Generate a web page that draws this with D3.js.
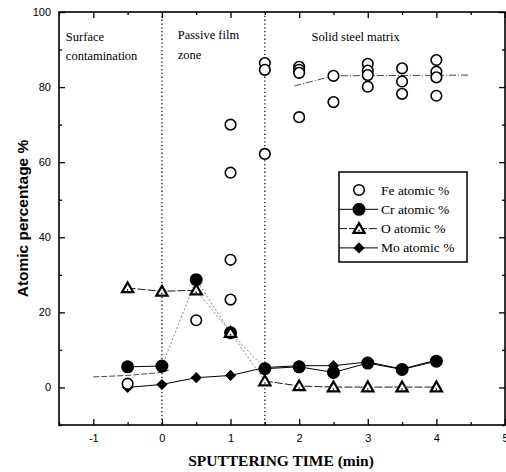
<!DOCTYPE html>
<meta charset="utf-8">
<style>
  body { margin: 0; background: #fff; }
  .tick text { font-family: "Liberation Sans", Arial, sans-serif; font-size: 11px; }
  .lbl { font-family: "Liberation Serif", "Times New Roman", serif; font-size: 12.5px; }
  .leg { font-family: "Liberation Serif", "Times New Roman", serif; font-size: 13.5px; }
</style>
<body>
<div class="chart"></div>

<script src="https://d3js.org/d3.v7.min.js"></script>
<script>

// data
var feX = [-0.5, 0.5, 1, 1, 1, 1, 1.5, 1.5, 1.5, 2, 2, 2, 2, 2.5, 2.5, 3, 3, 3, 3, 3.5, 3.5, 3.5, 4, 4, 4, 4];
var feY = [1, 17.9, 70, 57.2, 34, 23.4, 86.4, 84.6, 62.2, 85.4, 84.6, 83.8, 72, 83, 76, 86.2, 84.4, 83.2, 80.1, 85, 81.5, 78.2, 87.2, 84.1, 82.6, 77.7];

var times = [-0.5, 0, 0.5, 1, 1.5, 2, 2.5, 3, 3.5, 4];
var crY = [5.5, 5.7, 28.7, 14.6, 5, 5.5, 4, 6.5, 4.8, 7];
var oY  = [26.5, 25.6, 25.9, 14.6, 1.7, 0.4, 0.1, 0.1, 0.1, 0.1];
var moY = [0, 0.8, 2.6, 3.2, 5.3, 5.8, 5.8, 6.8, 4.9, 7.3];

// fitted Fe trend (visible parts only)
var fitLowX = [-1, -0.5, 0, 0.1];
var fitLowY = [2.8, 3.2, 4, 4.6];
var fitHighX = [1.93, 2.5, 4.47];
var fitHighY = [80.3, 83, 83.2];

var zoneX = [0, 1.5];
var xTicks = [-1, 0, 1, 2, 3, 4, 5];
var yTicks = [0, 20, 40, 60, 80, 100];

var width = 506, height = 472;
var margin = {left: 59, right: 505, top: 12, bottom: 425};

var svg = d3.select(".chart").append("svg")
    .attr("width", width)
    .attr("height", height);

var x = d3.scaleLinear().domain([-1.5, 5]).range([margin.left, margin.right]);
var y = d3.scaleLinear().domain([-10, 100]).range([margin.bottom, margin.top]);

var fmt = function(d) { return String(d); };

// axes, ticks inward on all four sides
var minorX = d3.range(-1.5, 5.01, 0.5).filter(function(d) { return d % 1 !== 0; });
var minorY = d3.range(-10, 101, 10).filter(function(d) { return d % 20 !== 0; });

svg.append("g").attr("transform", "translate(0," + margin.bottom + ")")
    .call(d3.axisBottom(x).tickValues(xTicks).tickSize(-6).tickPadding(9).tickFormat(fmt));
svg.append("g").attr("transform", "translate(0," + margin.bottom + ")")
    .call(d3.axisBottom(x).tickValues(minorX).tickSize(-3).tickFormat(""));
svg.append("g").attr("transform", "translate(0," + margin.top + ")")
    .call(d3.axisTop(x).tickValues(xTicks).tickSize(-6).tickFormat(""));
svg.append("g").attr("transform", "translate(0," + margin.top + ")")
    .call(d3.axisTop(x).tickValues(minorX).tickSize(-3).tickFormat(""));
svg.append("g").attr("transform", "translate(" + margin.left + ",0)")
    .call(d3.axisLeft(y).tickValues(yTicks).tickSize(-6).tickPadding(8).tickFormat(fmt));
svg.append("g").attr("transform", "translate(" + margin.left + ",0)")
    .call(d3.axisLeft(y).tickValues(minorY).tickSize(-3).tickFormat(""));
svg.append("g").attr("transform", "translate(" + margin.right + ",0)")
    .call(d3.axisRight(y).tickValues(yTicks).tickSize(-6).tickFormat(""));
svg.append("g").attr("transform", "translate(" + margin.right + ",0)")
    .call(d3.axisRight(y).tickValues(minorY).tickSize(-3).tickFormat(""));

svg.selectAll(".domain").remove();
svg.selectAll(".tick line").attr("stroke-width", 1.3);

svg.append("rect")
    .attr("x", margin.left).attr("y", margin.top)
    .attr("width", margin.right - margin.left).attr("height", margin.bottom - margin.top)
    .attr("fill", "none").attr("stroke", "#000").attr("stroke-width", 1.6);

// zone separators
svg.selectAll(".zone")
    .data(zoneX)
  .enter().append("line")
    .attr("x1", function(d) { return x(d); })
    .attr("x2", function(d) { return x(d); })
    .attr("y1", margin.top).attr("y2", margin.bottom)
    .attr("stroke", "#000").attr("stroke-width", 1.2)
    .attr("stroke-dasharray", "1.3,2.5");

// zone labels
var zoneLabels = [
  {t: "Surface", x: -1.4, y: 92.4},
  {t: "contamination", x: -1.4, y: 87.3},
  {t: "Passive film", x: 0.23, y: 92.9},
  {t: "zone", x: 0.23, y: 87.6},
  {t: "Solid steel matrix", x: 2.18, y: 92.2}
];
svg.selectAll(".zl")
    .data(zoneLabels)
  .enter().append("text")
    .attr("class", "lbl")
    .attr("x", function(d) { return x(d.x); })
    .attr("y", function(d) { return y(d.y); })
    .text(function(d) { return d.t; });

// lines
var line = d3.line()
    .x(function(d) { return x(d[0]); })
    .y(function(d) { return y(d[1]); });

function pairs(xs, ys) { return xs.map(function(v, i) { return [v, ys[i]]; }); }

svg.append("path").datum(pairs(fitLowX, fitLowY))
    .attr("d", line).attr("fill", "none").attr("stroke", "#333")
    .attr("stroke-width", 0.9).attr("stroke-dasharray", "6,2");
svg.append("path").datum(pairs(fitHighX, fitHighY))
    .attr("d", line).attr("fill", "none").attr("stroke", "#333")
    .attr("stroke-width", 0.9).attr("stroke-dasharray", "7,2,1,2");

var crPts = pairs(times, crY);
svg.append("path").datum(crPts.slice(0, 2))
    .attr("d", line).attr("fill", "none").attr("stroke", "#000").attr("stroke-width", 1);
svg.append("path").datum(crPts.slice(1, 5))
    .attr("d", line).attr("fill", "none").attr("stroke", "#777")
    .attr("stroke-width", 0.9).attr("stroke-dasharray", "2,2");
svg.append("path").datum(crPts.slice(4))
    .attr("d", line).attr("fill", "none").attr("stroke", "#000").attr("stroke-width", 1);

var oPts = pairs(times, oY);
svg.append("path").datum(oPts.slice(0, 3))
    .attr("d", line).attr("fill", "none").attr("stroke", "#000")
    .attr("stroke-width", 0.9).attr("stroke-dasharray", "8,2");
svg.append("path").datum(oPts.slice(2, 5))
    .attr("d", line).attr("fill", "none").attr("stroke", "#777")
    .attr("stroke-width", 0.9).attr("stroke-dasharray", "2,2");
svg.append("path").datum(oPts.slice(4))
    .attr("d", line).attr("fill", "none").attr("stroke", "#000")
    .attr("stroke-width", 0.9).attr("stroke-dasharray", "8,2");

svg.append("path").datum(pairs(times, moY))
    .attr("d", line).attr("fill", "none").attr("stroke", "#000").attr("stroke-width", 1);

// markers
var triangle = d3.symbol().type(d3.symbolTriangle).size(55);
var diamond = d3.symbol().type(d3.symbolSquare).size(62);

function drawFe(g, cx, cy) {
  g.append("circle").attr("cx", cx).attr("cy", cy).attr("r", 5.3)
    .attr("fill", "#fff").attr("stroke", "#000").attr("stroke-width", 1.6);
}
function drawCr(g, cx, cy) {
  g.append("circle").attr("cx", cx).attr("cy", cy).attr("r", 6.5).attr("fill", "#000");
}
function drawO(g, cx, cy) {
  g.append("path").attr("d", triangle)
    .attr("transform", "translate(" + cx + "," + (cy + 1) + ")")
    .attr("fill", "#fff").attr("stroke", "#000").attr("stroke-width", 2.2);
  g.append("circle").attr("cx", cx).attr("cy", cy + 2).attr("r", 0.8).attr("fill", "#000");
}
function drawMo(g, cx, cy) {
  g.append("path").attr("d", diamond)
    .attr("transform", "translate(" + cx + "," + cy + ") rotate(45)")
    .attr("fill", "#000");
}

var marks = svg.append("g");
times.forEach(function(t, i) { drawMo(marks, x(t), y(moY[i])); });
times.forEach(function(t, i) { drawCr(marks, x(t), y(crY[i])); });
times.forEach(function(t, i) { drawO(marks, x(t), y(oY[i])); });
feX.forEach(function(t, i) { drawFe(marks, x(t), y(feY[i])); });

// legend
var legendNames = ["Fe atomic %", "Cr atomic %", "O atomic %", "Mo atomic %"];
var legendDraw = [drawFe, drawCr, drawO, drawMo];
var lg = svg.append("g");
lg.append("rect")
    .attr("x", 339).attr("y", 172).attr("width", 128).attr("height", 90)
    .attr("fill", "#fff").attr("stroke", "#000").attr("stroke-width", 1.5);
legendNames.forEach(function(name, i) {
  var ly = 190 + i * 19.3;
  if (i === 1 || i === 3) {
    lg.append("line").attr("x1", 339).attr("x2", 378).attr("y1", ly).attr("y2", ly)
      .attr("stroke", "#000").attr("stroke-width", 1);
  }
  if (i === 2) {
    lg.append("line").attr("x1", 339).attr("x2", 378).attr("y1", ly).attr("y2", ly)
      .attr("stroke", "#000").attr("stroke-width", 0.9).attr("stroke-dasharray", "8,2");
  }
  legendDraw[i](lg, 359, ly);
  lg.append("text").attr("class", "leg")
    .attr("x", 381).attr("y", ly + 4.5)
    .text(name);
});

// axis titles
svg.append("text")
    .attr("x", 281).attr("y", 466)
    .style("text-anchor", "middle")
    .style("font-family", "'Liberation Serif', 'Times New Roman', serif")
    .style("font-weight", "bold")
    .style("font-size", "15.5px")
    .text("SPUTTERING TIME (min)");

svg.append("text")
    .attr("transform", "translate(28," + ((margin.top + margin.bottom) / 2) + ") rotate(-90)")
    .style("text-anchor", "middle")
    .style("font-family", "'Liberation Sans', Arial, sans-serif")
    .style("font-weight", "bold")
    .style("font-size", "15.5px")
    .text("Atomic percentage %");

</script>
</body>
